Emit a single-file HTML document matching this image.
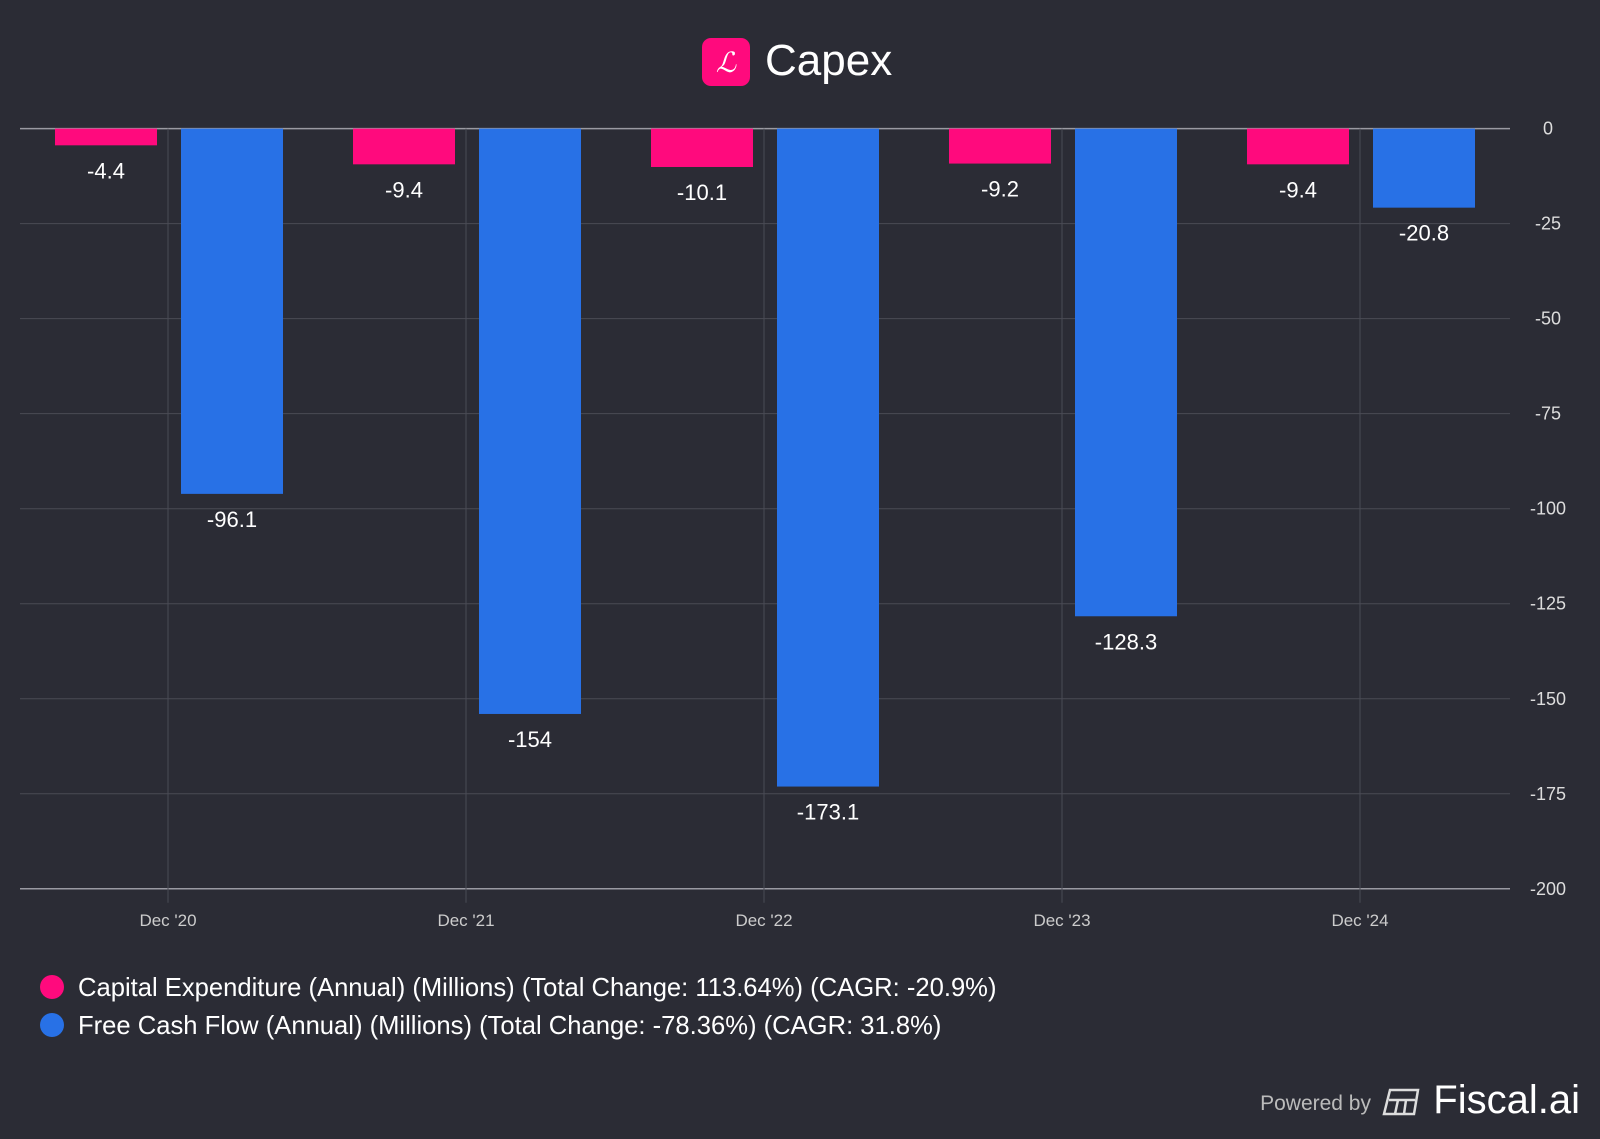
<!DOCTYPE html>
<html><head><meta charset="utf-8"><style>
html,body{margin:0;padding:0;background:#2b2c35;}
body{width:1600px;height:1134px;overflow:hidden;font-family:"Liberation Sans",Arial,sans-serif;}
</style></head><body>
<svg id="chart" width="1600" height="1134" xmlns="http://www.w3.org/2000/svg" font-family="Liberation Sans, Arial, sans-serif">
<rect width="1600" height="1134" fill="#2b2c35"/>
<g>
<rect x="702" y="38" width="48" height="48" rx="9" fill="#ff0a7d"/>
<text x="726" y="72" fill="#fff" font-size="28" font-style="italic" font-family="Liberation Serif, serif" text-anchor="middle">ℒ</text>
<text x="765" y="75" fill="#fff" font-size="44">Capex</text>
</g>
<g id="grid"></g><g id="bars"></g><g id="labels"></g>
<g>
<g><circle cx="52" cy="987" r="12" fill="#ff0a7d"/><text x="78" y="996" fill="#fff" font-size="25.6">Capital Expenditure (Annual) (Millions) (Total Change: 113.64%) (CAGR: -20.9%)</text></g>
<g><circle cx="52" cy="1025" r="12" fill="#2871e6"/><text x="78" y="1034" fill="#fff" font-size="25.6">Free Cash Flow (Annual) (Millions) (Total Change: -78.36%) (CAGR: 31.8%)</text></g>
</g>
<g>
<text x="1371" y="1110" fill="#bbb" font-size="21" text-anchor="end">Powered by</text>
<g fill="none" stroke="#ddd" stroke-width="2.5"><path d="M1390 1090 h28 l-4 24 h-30 z M1389 1100 h26 M1398 1100 l-3 14 M1406 1100 l-2 14"/></g>
<text x="1580" y="1113" fill="#fff" font-size="40" text-anchor="end">Fiscal.ai</text>
</g>
</svg>
<script>
const categories=["Dec '20","Dec '21","Dec '22","Dec '23","Dec '24"];
const capex=[-4.4,-9.4,-10.1,-9.2,-9.4];
const fcf=[-96.1,-154,-173.1,-128.3,-20.8];
const yTicks=[0,-25,-50,-75,-100,-125,-150,-175,-200];
const NS="http://www.w3.org/2000/svg";
const y=v=>128.6+(-v)*760.2/200;
const x=i=>168+i*298;
function mk(t,a,p,txt){const e=document.createElementNS(NS,t);for(const k in a)e.setAttribute(k,a[k]);if(txt!=null)e.textContent=txt;p.appendChild(e);return e;}
const grid=document.getElementById('grid'),bars=document.getElementById('bars'),labels=document.getElementById('labels');
yTicks.forEach(t=>{
 const l=mk('line',{x1:20,x2:1510,y1:y(t),y2:y(t),stroke:(t===0||t===-200)?'#9a9aa2':'#4a4b55','stroke-width':(t===0||t===-200)?1.5:1},grid);
 
 
 const tx=mk('text',{x:1548,y:y(t)+6,fill:'#ddd','font-size':18,'text-anchor':'middle'},grid,String(t));
 
 
});
categories.forEach((c,i)=>{
 const l=mk('line',{x1:x(i),x2:x(i),y1:y(0),y2:y(-200)+14,stroke:'#4a4b55'},grid);
 
 
 const tx=mk('text',{x:x(i),y:926,fill:'#ccc','font-size':17,'text-anchor':'middle'},grid,c);
 
 
 [[capex[i],-62,'#ff0a7d','capex'],[fcf[i],64,'#2871e6','fcf']].forEach(([v,off,col,nm])=>{
  const cx=x(i)+off;
  const r=mk('rect',{x:cx-51,y:y(0),width:102,height:y(v)-y(0),fill:col},bars);
  
  
  const t=mk('text',{x:cx,y:y(v)+33,fill:'#fff','font-size':22,'text-anchor':'middle'},labels,String(v));
  
  
 });
});
</script>
</body></html>
